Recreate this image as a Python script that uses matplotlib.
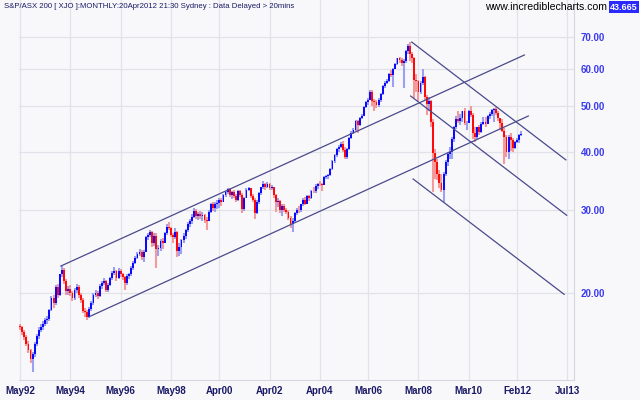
"""S&P/ASX 200 monthly candles with channel lines (incrediblecharts style)."""

import matplotlib
matplotlib.use("Agg")
import matplotlib.pyplot as plt
import numpy as np

# ---------------------------------------------------------------------------
# data (index / 100), monthly bars May 1992 .. Apr 2012
# ---------------------------------------------------------------------------
FIRST_OPEN = 17.0

CLOSE = [
    16.9, 16.5, 16.1, 15.6, 15.1, 14.5, 14.8, 15.6,                         # 1992
    16.2, 16.7, 16.9, 17.2, 17.5, 17.6, 18.4, 19.5, 19.0, 20.6, 19.8, 21.9,  # 1993
    22.4, 21.2, 20.2, 20.4, 20.0, 19.5, 20.3, 20.6, 19.8, 19.3, 18.3, 18.2,  # 1994
    17.8, 18.5, 19.0, 19.8, 20.0, 19.7, 20.7, 21.0, 21.2, 20.3, 20.8, 21.5,  # 1995
    22.1, 22.3, 21.5, 22.3, 21.9, 21.6, 21.0, 21.7, 21.9, 22.6, 23.2, 23.8,  # 1996
    24.2, 24.5, 23.9, 24.5, 26.3, 26.6, 27.0, 25.5, 26.5, 24.8, 24.9, 25.8,  # 1997
    25.6, 26.8, 27.7, 27.5, 26.6, 26.3, 27.0, 24.6, 25.0, 25.9, 26.4, 27.2,  # 1998
    28.0, 28.4, 29.0, 29.9, 29.2, 29.5, 29.1, 29.3, 28.6, 28.5, 29.8, 30.9,  # 1999
    30.4, 30.9, 31.1, 31.5, 31.3, 32.3, 32.8, 33.3, 32.3, 32.8, 32.2, 31.6,  # 2000
    32.9, 32.4, 30.2, 31.9, 33.2, 33.4, 32.1, 31.6, 29.6, 31.2, 32.6, 33.6,  # 2001
    34.2, 33.6, 34.2, 33.5, 33.6, 32.3, 31.2, 31.4, 30.0, 30.6, 30.1, 29.7,  # 2002
    28.9, 28.1, 28.5, 29.6, 30.1, 30.0, 30.9, 31.6, 31.0, 32.1, 31.8, 33.0,  # 2003
    32.9, 33.8, 34.2, 34.1, 34.0, 35.3, 35.4, 35.6, 36.8, 38.1, 39.3, 40.5,  # 2004
    40.9, 41.5, 40.4, 38.9, 40.5, 42.8, 43.9, 44.4, 46.4, 45.5, 47.2, 47.6,  # 2005
    49.8, 50.9, 51.6, 53.6, 51.3, 51.1, 50.2, 51.6, 52.9, 55.2, 56.0, 56.4,  # 2006
    58.5, 58.2, 60.0, 61.3, 63.1, 62.7, 61.6, 62.4, 65.5, 67.2, 64.6, 63.4,  # 2007
    56.7, 56.6, 53.5, 56.0, 57.7, 52.2, 50.5, 51.2, 46.3, 39.8, 38.0, 35.8,  # 2008
    34.3, 33.2, 35.8, 38.0, 39.6, 40.0, 42.5, 45.0, 47.0, 46.5, 47.2, 48.7,  # 2009
    46.0, 46.1, 48.9, 47.9, 43.7, 43.0, 45.0, 44.0, 45.8, 46.3, 45.8, 47.5,  # 2010
    48.0, 49.0, 49.3, 48.2, 47.1, 46.1, 44.2, 43.0, 39.9, 43.0, 42.3, 40.6,  # 2011
    42.0, 42.4, 43.4, 43.665,                                                # 2012
]

HIGH = [
    17.2, 17.0, 16.7, 16.3, 15.8, 15.2, 15.0, 15.7,
    16.4, 16.9, 17.2, 17.4, 17.7, 17.9, 18.5, 19.7, 19.8, 20.8, 20.9, 22.0,
    22.8, 22.6, 21.4, 20.7, 20.8, 20.2, 20.5, 20.9, 20.8, 20.0, 19.5, 18.6,
    18.4, 18.7, 19.2, 20.0, 20.3, 20.2, 20.9, 21.2, 21.5, 21.3, 21.0, 21.6,
    22.3, 22.7, 22.4, 22.6, 22.5, 22.1, 21.7, 21.9, 22.1, 22.8, 23.4, 24.0,
    24.4, 24.8, 24.7, 24.7, 26.4, 26.9, 27.3, 27.1, 26.8, 26.9, 25.3, 26.0,
    26.2, 27.0, 28.0, 28.3, 27.7, 26.9, 27.5, 27.1, 25.6, 26.1, 26.8, 27.4,
    28.3, 28.8, 29.4, 30.3, 30.2, 29.8, 29.9, 29.8, 29.5, 29.0, 30.0, 31.1,
    31.3, 31.2, 31.6, 31.8, 31.8, 32.5, 33.0, 33.5, 33.4, 33.0, 33.1, 32.5,
    33.1, 33.2, 32.6, 32.0, 33.4, 33.7, 33.5, 32.5, 31.8, 31.5, 32.8, 33.7,
    34.6, 34.3, 34.5, 34.3, 34.0, 33.7, 32.5, 31.9, 31.5, 30.9, 30.9, 30.3,
    30.1, 29.2, 28.9, 29.8, 30.3, 30.6, 31.0, 31.8, 32.0, 32.3, 32.4, 33.1,
    33.6, 34.1, 34.3, 34.7, 34.3, 35.4, 35.6, 35.9, 36.9, 38.3, 39.5, 40.6,
    41.3, 41.9, 42.1, 40.8, 40.7, 42.9, 44.2, 44.8, 46.6, 46.7, 47.4, 48.1,
    50.0, 51.2, 52.0, 54.1, 54.0, 51.8, 51.4, 52.0, 53.2, 55.5, 56.6, 57.0,
    58.7, 59.7, 60.3, 61.6, 63.4, 63.6, 63.4, 62.9, 65.7, 67.8, 68.5, 65.0,
    63.6, 58.5, 56.8, 56.6, 59.8, 57.8, 52.8, 52.2, 51.6, 46.9, 40.5, 38.5,
    36.6, 35.9, 36.2, 38.3, 40.0, 40.8, 42.9, 45.3, 47.5, 48.9, 48.1, 48.9,
    49.5, 46.5, 49.1, 49.9, 48.3, 45.0, 45.2, 45.6, 46.3, 47.3, 47.3, 47.9,
    48.6, 49.3, 49.4, 49.8, 48.9, 47.2, 47.0, 44.8, 43.3, 43.4, 43.8, 42.7,
    42.2, 42.8, 43.6, 44.2,
]

LOW = [
    16.7, 16.3, 15.9, 15.4, 14.9, 14.2, 13.6, 14.6,
    15.4, 16.0, 16.5, 16.7, 17.0, 17.2, 17.4, 18.3, 18.6, 18.9, 19.5, 19.7,
    21.6, 20.9, 19.8, 19.8, 19.7, 19.2, 19.3, 20.0, 19.5, 19.0, 18.1, 17.8,
    17.5, 17.7, 18.3, 18.9, 19.6, 19.4, 19.6, 20.4, 20.8, 20.1, 20.1, 20.7,
    21.3, 21.8, 21.2, 21.4, 21.6, 21.3, 20.3, 20.8, 21.4, 21.7, 22.4, 23.0,
    23.6, 24.0, 23.5, 23.3, 24.4, 25.9, 26.3, 25.0, 25.2, 22.6, 24.0, 24.6,
    24.8, 25.5, 26.6, 27.2, 26.3, 25.6, 26.1, 23.9, 24.0, 24.2, 25.6, 26.0,
    27.0, 27.6, 28.0, 28.9, 28.7, 28.6, 28.8, 28.5, 28.2, 27.3, 28.4, 29.6,
    29.9, 29.8, 30.2, 30.4, 30.6, 31.2, 32.0, 32.5, 32.0, 31.7, 31.8, 31.3,
    31.4, 32.0, 29.6, 29.9, 31.8, 32.9, 31.9, 31.3, 28.8, 29.5, 31.0, 32.4,
    33.3, 33.2, 33.4, 33.2, 33.1, 31.9, 29.8, 30.5, 29.6, 29.1, 29.8, 29.4,
    28.6, 27.5, 27.0, 28.3, 29.3, 29.6, 29.8, 30.6, 30.8, 30.9, 31.4, 31.7,
    32.6, 32.6, 33.3, 33.8, 33.0, 33.9, 34.9, 34.9, 35.5, 36.6, 37.8, 39.0,
    40.0, 40.7, 40.0, 38.5, 38.6, 40.4, 42.6, 43.6, 44.2, 43.9, 45.3, 47.0,
    47.5, 49.5, 50.3, 51.4, 49.9, 48.8, 49.6, 49.7, 51.1, 52.8, 54.6, 55.6,
    56.2, 57.6, 54.9, 59.8, 61.0, 61.8, 60.8, 54.7, 61.7, 64.4, 62.4, 61.8,
    51.9, 53.5, 51.3, 53.0, 55.4, 51.4, 47.8, 48.7, 45.0, 32.8, 35.0, 34.8,
    33.5, 32.8, 31.2, 35.5, 37.2, 38.6, 38.6, 42.0, 44.6, 45.9, 45.6, 46.2,
    45.6, 44.5, 45.9, 47.3, 42.6, 42.0, 42.6, 43.3, 43.7, 45.5, 45.0, 45.7,
    46.9, 47.6, 46.2, 47.8, 46.4, 44.5, 44.0, 37.7, 38.9, 38.6, 40.1, 40.0,
    40.5, 41.7, 41.8, 43.2,
]

# channel / trend lines: (bar index, value) -> (bar index, value)
TREND_LINES = [
    ((19.5, 22.83), (240.5, 64.18)),
    ((33.0, 17.81), (242.4, 47.60)),
    ((186.8, 68.40), (260.3, 38.40)),
    ((186.3, 52.50), (260.7, 29.27)),
    ((187.5, 34.96), (259.5, 19.87)),
]

TICK_POS = [0, 24, 48, 72, 95, 119, 143, 166, 190, 214, 237, 261]
TICK_LABELS = ["May92", "May94", "May96", "May98", "Apr00", "Apr02",
               "Apr04", "Mar06", "Mar08", "Mar10", "Feb12", "Jul13"]
Y_TICKS = [20, 30, 40, 50, 60, 70]

# ---------------------------------------------------------------------------
# style
# ---------------------------------------------------------------------------
BG = "#f8f8fb"
GRID = "#e2e2ea"
UP, UP_WICK = "#0a0aff", "#9ca0f2"
DN, DN_WICK = "#ff0a0a", "#f49a9a"
LINE = "#4a4a8c"
NAVY = "#1a1a66"
FONT = ["Liberation Sans", "DejaVu Sans"]

close = np.array(CLOSE)
high = np.array(HIGH)
low = np.array(LOW)
# monthly bar opens at the prior month's close
opn = np.concatenate([[FIRST_OPEN], close[:-1]])
x = np.arange(len(close))
up = close >= opn

fig = plt.figure(figsize=(6.4, 4.0), dpi=100, facecolor=BG)
ax = fig.add_axes([19 / 640, 20 / 400, 555 / 640, 380 / 400])
ax.set_facecolor(BG)
ax.set_yscale("log")
ax.set_ylim(13.06, 84.04)
ax.set_xlim(-0.5, 264.2)

for v in Y_TICKS:
    ax.axhline(v, color=GRID, lw=0.9, zorder=0)
for p in TICK_POS:
    ax.axvline(p, color=GRID, lw=0.9, zorder=0)

# wicks
ax.vlines(x[up], low[up], high[up], color=UP_WICK, lw=1.5, zorder=2)
ax.vlines(x[~up], low[~up], high[~up], color=DN_WICK, lw=1.5, zorder=2)
# bodies
body_lo = np.minimum(opn, close)
body_hi = np.maximum(opn, close)
ax.bar(x[up], body_hi[up] - body_lo[up], bottom=body_lo[up], width=0.88,
       color=UP, lw=0, zorder=3)
ax.bar(x[~up], body_hi[~up] - body_lo[~up], bottom=body_lo[~up], width=0.88,
       color=DN, lw=0, zorder=3)

for (x0, y0), (x1, y1) in TREND_LINES:
    ax.plot([x0, x1], [y0, y1], color=LINE, lw=0.9, zorder=4)

ax.set_xticks(TICK_POS)
ax.set_xticklabels(TICK_LABELS, fontfamily=FONT, fontsize=7, fontweight="bold",
                   color=NAVY)
ax.set_yticks(Y_TICKS)
ax.set_yticklabels([f"{v:.2f}" for v in Y_TICKS], fontfamily=FONT, fontsize=7,
                   fontweight="bold", color="#3a3af0")
ax.yaxis.set_minor_locator(matplotlib.ticker.NullLocator())
ax.yaxis.tick_right()
ax.tick_params(axis="both", length=0)
ax.tick_params(axis="x", pad=4)
ax.tick_params(axis="y", pad=5)

for side in ("top", "left"):
    ax.spines[side].set_visible(False)
for side in ("bottom", "right"):
    ax.spines[side].set_color("#d6d6e0")
    ax.spines[side].set_linewidth(0.8)

# header texts
fig.text(4 / 640, 1 - 7 / 400,
         "S&P/ASX 200 [ XJO ]:MONTHLY:20Apr2012 21:30 Sydney : Data Delayed > 20mins",
         ha="left", va="center", fontsize=5.6, fontfamily=FONT, color=NAVY)
fig.text(607 / 640, 1 - 7 / 400, "www.incrediblecharts.com", ha="right",
         va="center", fontsize=7.6, fontfamily=FONT, color="black")
fig.text(624 / 640, 1 - 7 / 400, "43.665", ha="center", va="center",
         fontsize=6.5, fontfamily=FONT, fontweight="bold", color="white",
         bbox=dict(boxstyle="square,pad=0.15", fc="#2a2aff", ec="none"))

fig.savefig("out.png", dpi=100, facecolor=BG)
